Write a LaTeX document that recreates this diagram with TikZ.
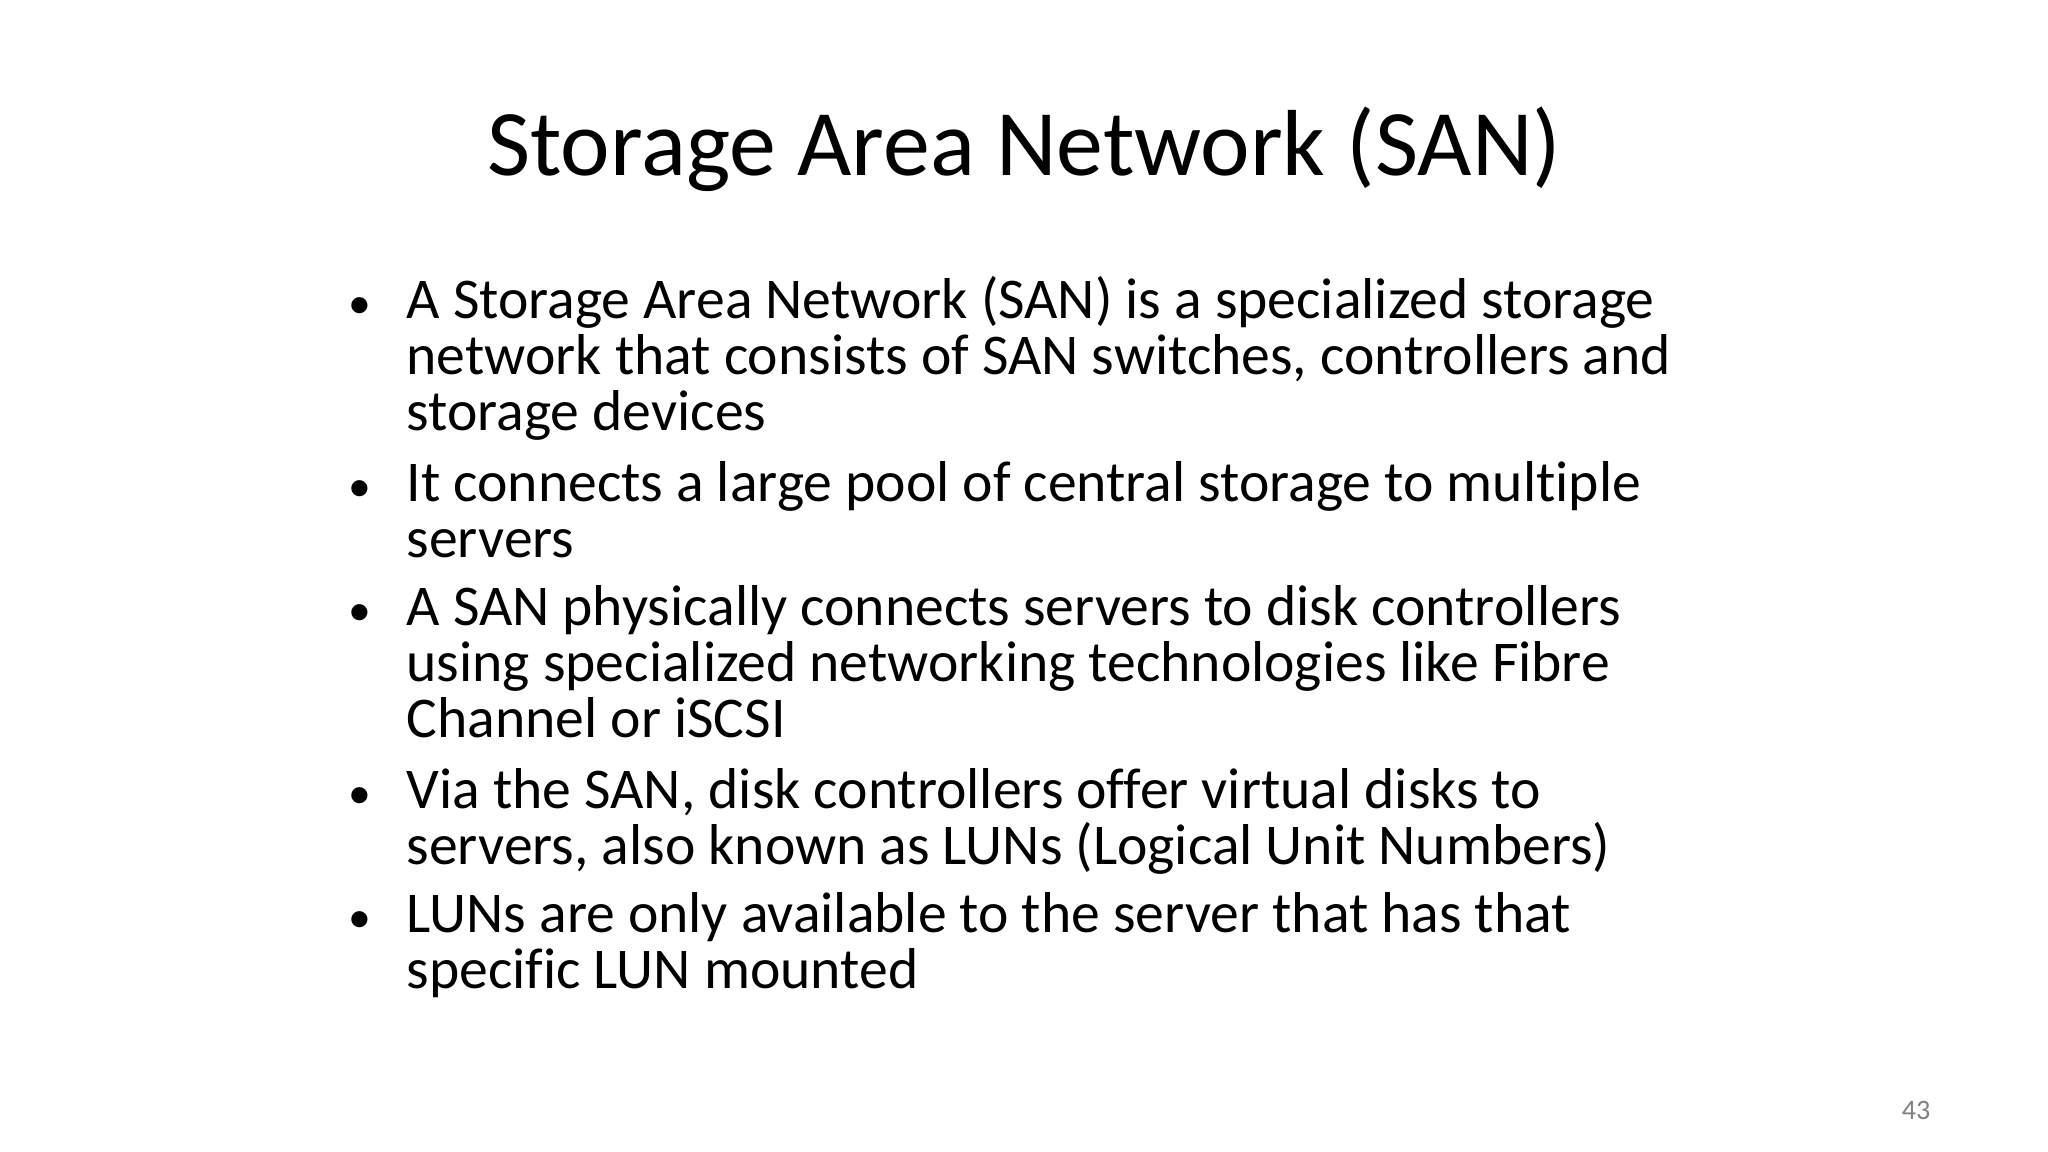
\documentclass[tikz,border=0pt]{standalone}
\usepackage{fontspec}
\setmainfont[Ligatures=NoCommon]{Carlito}
\begin{document}
\begin{tikzpicture}[x=1cm,y=1cm,
  ln/.style={anchor=base west,inner sep=0pt,font=\fontsize{16.4}{20}\selectfont},
  bul/.style={anchor=base,inner sep=0pt,font=\fontsize{13}{16}\selectfont}]
\useasboundingbox[fill=white] (0,0) rectangle (20.48,11.52);
\node[anchor=base,inner sep=0pt,font=\fontsize{26.7}{32}\selectfont] (title) at (10.24,11.52-1.76) {Storage Area Network (SAN)};
\def\tx{4.06}
\def\bx{3.6}
\foreach \n/\y/\t in {
 l1/3.19/{A Storage Area Network (SAN) is a specialized storage},
 l2/3.75/{network that consists of SAN switches, controllers and},
 l3/4.31/{storage devices},
 l4/5.02/{It connects a large pool of central storage to multiple},
 l5/5.58/{servers},
 l6/6.26/{A SAN physically connects servers to disk controllers},
 l7/6.82/{using specialized networking technologies like Fibre},
 l8/7.38/{Channel or iSCSI},
 l9/8.09/{Via the SAN, disk controllers offer virtual disks to},
 l10/8.65/{servers, also known as LUNs (Logical Unit Numbers)},
 l11/9.33/{LUNs are only available to the server that has that},
 l12/9.89/{specific LUN mounted}}
 \node[ln] (\n) at (\tx,11.52-\y) {\t};
\foreach \n/\y in {b1/3.19,b2/5.02,b3/6.26,b4/8.09,b5/9.33}
 \node[bul] (\n) at (\bx,11.52-\y) {•};
\node[anchor=base,inner sep=0pt,text=gray,font=\fontsize{8}{9}\selectfont] (pg) at (19.16,11.52-11.20) {43};
\end{tikzpicture}
\end{document}
